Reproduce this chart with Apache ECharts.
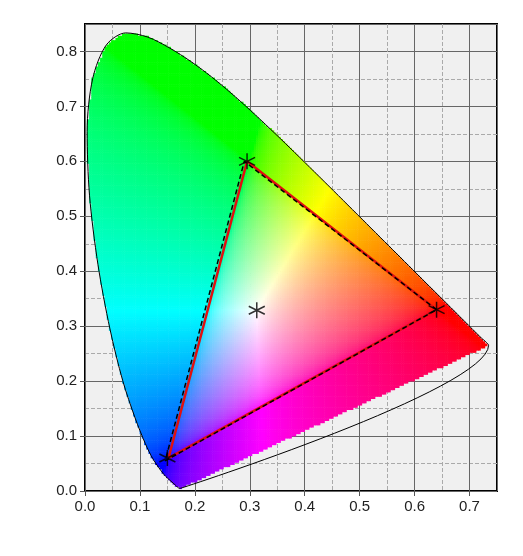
<!DOCTYPE html>
<html><head><meta charset="utf-8">
<script src="https://cdn.jsdelivr.net/npm/echarts@6/dist/echarts.min.js"></script>
<style>html,body{margin:0;background:#fff}#c{width:523px;height:556px}</style>
</head><body><div id="c"></div>
<script>
// CIE 1931 spectral locus (x, y)
var locus = [[0.1741,0.0050],[0.1733,0.0048],[0.1714,0.0051],[0.1644,0.0109],[0.1566,0.0177],[0.1440,0.0297],
  [0.1241,0.0578],[0.1096,0.0868],[0.0913,0.1327],[0.0687,0.2007],[0.0454,0.2950],[0.0235,0.4127],[0.0082,0.5384],
  [0.0039,0.6548],[0.0139,0.7502],[0.0389,0.8120],[0.0743,0.8338],[0.1142,0.8262],[0.1547,0.8059],[0.1929,0.7816],
  [0.2296,0.7543],[0.2658,0.7243],[0.3016,0.6923],[0.3373,0.6589],[0.3731,0.6245],[0.4087,0.5896],[0.4441,0.5547],
  [0.4788,0.5202],[0.5125,0.4866],[0.5448,0.4544],[0.5752,0.4242],[0.6029,0.3965],[0.6270,0.3725],[0.6658,0.3340],
  [0.6915,0.3083],[0.7190,0.2809],[0.7347,0.2653],[0.1741,0.0050]];
var gamutRed = [[0.64,0.33],[0.295,0.60],[0.152,0.06],[0.64,0.33]];
var gamutDash = [[0.64,0.33],[0.29,0.60],[0.146,0.055],[0.64,0.33]];
var primaries = [[0.64,0.33],[0.295,0.60],[0.15,0.06]];
var whitePoint = [[0.3127,0.3290]];

function inside(x, y) {
  var c = false;
  for (var i = 0, j = locus.length - 1; i < locus.length; j = i++) {
    var xi = locus[i][0], yi = locus[i][1], xj = locus[j][0], yj = locus[j][1];
    if ((yi > y) != (yj > y) && x < (xj - xi) * (y - yi) / (yj - yi) + xi) c = !c;
  }
  return c;
}
function xyColor(x, y) {
  var X = x / y, Z = (1 - x - y) / y, Y = 1;
  var r = 3.2406*X - 1.5372*Y - 0.4986*Z, g = -0.9689*X + 1.8758*Y + 0.0415*Z, b = 0.0557*X - 0.2040*Y + 1.0570*Z;
  r = Math.max(r, 0); g = Math.max(g, 0); b = Math.max(b, 0);
  var m = Math.max(r, g, b) || 1;
  function gm(v) { v /= m; return Math.round(255 * (v <= 0.0031308 ? 12.92*v : 1.055*Math.pow(v, 1/2.4) - 0.055)); }
  return 'rgb(' + gm(r) + ',' + gm(g) + ',' + gm(b) + ')';
}
var step = 0.004, cells = [];
for (var x = 0; x < 0.75; x += step)
  for (var y = 0; y < 0.85; y += step) {
    var cx = x + step / 2, cy = y + step / 2;
    if (inside(cx, cy)) cells.push([cx, cy, xyColor(cx, cy)]);
  }

var chart = echarts.init(document.getElementById('c'));
var axisCommon = {
  type: 'value', min: 0, interval: 0.1,
  axisLine: {show: false}, axisTick: {show: true, length: 5, lineStyle: {color: '#555'}},
  axisLabel: {color: '#222', fontSize: 15, fontFamily: 'Liberation Sans', showMaxLabel: false,
    formatter: function (v) { return v.toFixed(1); }},
  splitLine: {show: true, lineStyle: {color: '#666', width: 1}},
  minorSplitLine: {show: true, lineStyle: {color: '#aaa', type: 'dashed'}}
};
chart.setOption({
  animation: false,
  grid: {left: 85, right: 26, top: 24, bottom: 65, show: true, backgroundColor: '#f0f0f0', borderColor: '#000', borderWidth: 2, z: 0},
  xAxis: Object.assign({}, axisCommon, {max: 0.75, minorTick: {show: false, splitNumber: 2}}),
  yAxis: Object.assign({}, axisCommon, {max: 0.85, minorTick: {show: false, splitNumber: 2}}),
  series: [{
    type: 'custom', data: cells, silent: true, z: 2,
    renderItem: function (params, api) {
      var p0 = api.coord([api.value(0) - step / 2, api.value(1) + step / 2]);
      var p1 = api.coord([api.value(0) + step / 2, api.value(1) - step / 2]);
      return {type: 'rect', shape: {x: p0[0] - 0.3, y: p0[1] - 0.3, width: p1[0] - p0[0] + 0.6, height: p1[1] - p0[1] + 0.6},
        style: {fill: cells[params.dataIndex][2]}};
    }
  }, {
    type: 'line', data: locus, symbol: 'none', z: 3, smooth: 0.3, lineStyle: {color: '#000', width: 1}
  }, {
    type: 'line', data: gamutRed, symbol: 'none', z: 4, lineStyle: {color: '#e01010', width: 2.5}
  }, {
    type: 'line', data: gamutDash, symbol: 'none', z: 5, lineStyle: {color: '#000', width: 1.5, type: [5, 3]}
  }, {
    type: 'scatter', data: primaries.concat(whitePoint), z: 6, symbolSize: 16,
    symbol: 'path://M0,-10L0,10M-8.66,-5L8.66,5M-8.66,5L8.66,-5',
    itemStyle: {color: 'none', borderColor: '#000', borderWidth: 1.5}
  }]
});
</script></body></html>
